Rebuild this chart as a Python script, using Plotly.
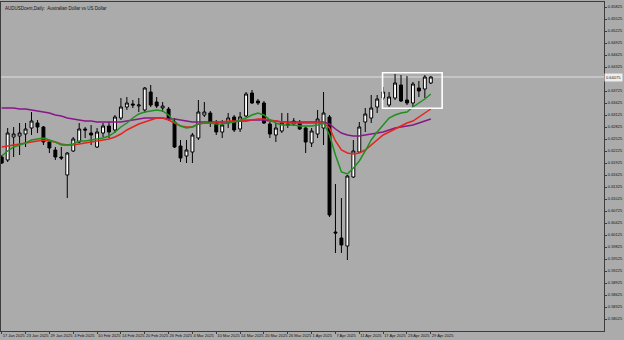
import plotly.graph_objects as go

title_text = "AUDUSDcent,Daily:  Australian Dollar vs US Dollar"

dates = [
    "17 Jan 2025", "20 Jan 2025", "21 Jan 2025", "22 Jan 2025", "23 Jan 2025", "24 Jan 2025",
    "27 Jan 2025", "28 Jan 2025", "29 Jan 2025", "30 Jan 2025", "31 Jan 2025",
    "3 Feb 2025", "4 Feb 2025", "5 Feb 2025", "6 Feb 2025", "7 Feb 2025",
    "10 Feb 2025", "11 Feb 2025", "12 Feb 2025", "13 Feb 2025", "14 Feb 2025",
    "17 Feb 2025", "18 Feb 2025", "19 Feb 2025", "20 Feb 2025", "21 Feb 2025",
    "24 Feb 2025", "25 Feb 2025", "26 Feb 2025", "27 Feb 2025", "28 Feb 2025",
    "3 Mar 2025", "4 Mar 2025", "5 Mar 2025", "6 Mar 2025", "7 Mar 2025",
    "10 Mar 2025", "11 Mar 2025", "12 Mar 2025", "13 Mar 2025", "14 Mar 2025",
    "17 Mar 2025", "18 Mar 2025", "19 Mar 2025", "20 Mar 2025", "21 Mar 2025",
    "24 Mar 2025", "25 Mar 2025", "26 Mar 2025", "27 Mar 2025", "28 Mar 2025",
    "31 Mar 2025", "1 Apr 2025", "2 Apr 2025", "3 Apr 2025", "4 Apr 2025",
    "7 Apr 2025", "8 Apr 2025", "9 Apr 2025", "10 Apr 2025", "11 Apr 2025",
    "14 Apr 2025", "15 Apr 2025", "16 Apr 2025", "17 Apr 2025", "18 Apr 2025",
    "21 Apr 2025", "22 Apr 2025", "23 Apr 2025", "24 Apr 2025", "25 Apr 2025",
    "28 Apr 2025", "29 Apr 2025",
]

open_ = [
    0.62075, 0.62, 0.62575, 0.626, 0.6265, 0.628, 0.62925, 0.62825, 0.6245, 0.6225,
    0.62075, 0.61625, 0.62225, 0.6245, 0.62775, 0.62675, 0.62325, 0.62675, 0.6285, 0.6275,
    0.6305, 0.63325, 0.634, 0.6335, 0.6325, 0.637, 0.6345, 0.633, 0.63275, 0.6295,
    0.6235, 0.621, 0.622, 0.6255, 0.63125, 0.63175, 0.62925, 0.627, 0.62925, 0.63075,
    0.62775, 0.631, 0.63675, 0.63475, 0.63425, 0.629, 0.62625, 0.62725, 0.629, 0.629,
    0.62925, 0.628, 0.62425, 0.6265, 0.628, 0.63075, 0.602, 0.6005, 0.5985, 0.61575,
    0.622, 0.6295, 0.6305, 0.63325, 0.6355, 0.63375, 0.6355, 0.63875, 0.635, 0.63425,
    0.638, 0.63775, 0.63925,
]
high = [
    0.62125, 0.628, 0.62825, 0.62925, 0.62925, 0.632, 0.63, 0.6285, 0.625, 0.62325,
    0.62325, 0.622, 0.62575, 0.62925, 0.62825, 0.62875, 0.628, 0.62925, 0.6295, 0.63125,
    0.6355, 0.63575, 0.635, 0.6355, 0.63825, 0.63875, 0.63575, 0.6345, 0.63325, 0.6305,
    0.625, 0.625, 0.62675, 0.635, 0.6345, 0.63225, 0.63, 0.63, 0.63175, 0.63125,
    0.632, 0.637, 0.6375, 0.63525, 0.63475, 0.6295, 0.62925, 0.63175, 0.63175, 0.6305,
    0.63, 0.62825, 0.628, 0.6325, 0.637, 0.63125, 0.614, 0.6105, 0.61625, 0.625,
    0.6295, 0.633, 0.63625, 0.63625, 0.63825, 0.637, 0.6415, 0.64125, 0.641, 0.6395,
    0.63975, 0.64125, 0.641,
]
low = [
    0.619, 0.6195, 0.62075, 0.62125, 0.62325, 0.62625, 0.62675, 0.62375, 0.62175, 0.62,
    0.62, 0.6105, 0.622, 0.62425, 0.6255, 0.62375, 0.623, 0.62575, 0.6255, 0.62675,
    0.63, 0.6325, 0.633, 0.632, 0.63175, 0.63325, 0.633, 0.632, 0.62975, 0.623,
    0.6195, 0.61925, 0.61925, 0.625, 0.63075, 0.62825, 0.62625, 0.6255, 0.628, 0.627,
    0.627, 0.63075, 0.634, 0.63375, 0.629, 0.6255, 0.6245, 0.62675, 0.628, 0.6285,
    0.6275, 0.62175, 0.62325, 0.6255, 0.62375, 0.60575, 0.59675, 0.59675, 0.595, 0.6155,
    0.62175, 0.627, 0.62925, 0.63175, 0.635, 0.63325, 0.635, 0.6345, 0.63375, 0.63325,
    0.63575, 0.6355, 0.639,
]
close = [
    0.61925, 0.62675, 0.6265, 0.62675, 0.62775, 0.62975, 0.62825, 0.6245, 0.623, 0.62075,
    0.6205, 0.62175, 0.62525, 0.62775, 0.6275, 0.62625, 0.627, 0.6285, 0.627, 0.63075,
    0.63325, 0.63425, 0.63375, 0.63375, 0.638, 0.63375, 0.6335, 0.6335, 0.63025, 0.62325,
    0.6205, 0.6225, 0.62625, 0.632, 0.632, 0.6295, 0.627, 0.62875, 0.6305, 0.6275,
    0.63075, 0.6365, 0.63425, 0.63425, 0.62925, 0.6265, 0.628, 0.62925, 0.62875, 0.62975,
    0.62775, 0.6245, 0.62725, 0.63025, 0.63175, 0.60625, 0.60175, 0.59875, 0.616, 0.62225,
    0.62825, 0.6315, 0.633, 0.63525, 0.637, 0.63575, 0.63925, 0.63475, 0.63425, 0.639,
    0.63725, 0.64075, 0.64075,
]

ma_fast = [
    0.621, 0.62225, 0.62325, 0.62375, 0.62425, 0.625, 0.62525, 0.6255, 0.625, 0.6245,
    0.62375, 0.62375, 0.624, 0.62475, 0.62475, 0.625, 0.62525, 0.6255, 0.626, 0.627,
    0.62825, 0.62925, 0.6305, 0.6315, 0.632, 0.63225, 0.6325, 0.63225, 0.63125, 0.6295,
    0.6285, 0.628, 0.62825, 0.629, 0.62925, 0.62925, 0.629, 0.629, 0.62925, 0.6295,
    0.63, 0.6305, 0.63125, 0.63175, 0.63125, 0.63, 0.62925, 0.62875, 0.62875, 0.62875,
    0.6285, 0.6285, 0.6285, 0.62875, 0.62925, 0.62625, 0.62125, 0.617, 0.6165, 0.618,
    0.61975, 0.62225, 0.625, 0.627, 0.62875, 0.6305, 0.63125, 0.63175, 0.632, 0.63325,
    0.63425, 0.63525, 0.6365,
]
ma_mid = [
    0.62325, 0.6235, 0.62375, 0.624, 0.62425, 0.6245, 0.62475, 0.625, 0.62475, 0.6245,
    0.624, 0.62375, 0.62375, 0.624, 0.62425, 0.6245, 0.62475, 0.625, 0.62525, 0.62575,
    0.6265, 0.6275, 0.62825, 0.629, 0.6295, 0.63, 0.6305, 0.6305, 0.63, 0.62925,
    0.6285, 0.62825, 0.62825, 0.629, 0.62925, 0.62925, 0.6295, 0.6295, 0.62975, 0.62975,
    0.62975, 0.63, 0.63, 0.63025, 0.63025, 0.63, 0.62975, 0.6295, 0.62925, 0.62925,
    0.62925, 0.62925, 0.62925, 0.62925, 0.62925, 0.628, 0.62475, 0.6225, 0.62175, 0.6215,
    0.62175, 0.6225, 0.62375, 0.625, 0.62625, 0.627, 0.62775, 0.6285, 0.62925, 0.62975,
    0.63075, 0.63175, 0.63275,
]
ma_slow = [
    0.633, 0.633, 0.633, 0.63275, 0.63275, 0.6325, 0.63225, 0.632, 0.63175, 0.63125,
    0.631, 0.6305, 0.63025, 0.63, 0.62975, 0.62975, 0.6295, 0.6295, 0.6295, 0.6295,
    0.6295, 0.62975, 0.63, 0.63025, 0.6305, 0.6305, 0.6305, 0.6305, 0.63025, 0.63025,
    0.63, 0.62975, 0.6295, 0.6295, 0.6295, 0.6295, 0.6295, 0.6295, 0.6295, 0.6295,
    0.62975, 0.62975, 0.63, 0.63, 0.63, 0.62975, 0.62975, 0.6295, 0.6295, 0.6295,
    0.6295, 0.6295, 0.6295, 0.6295, 0.6295, 0.629, 0.62775, 0.62675, 0.62625, 0.626,
    0.626, 0.62625, 0.6265, 0.62675, 0.627, 0.6275, 0.628, 0.62825, 0.6285, 0.62875,
    0.62925, 0.62975, 0.63025,
]

y_tickvals = [round(0.65825 - 0.003 * k, 5) for k in range(27)]
highlight_from = "17 Apr 2025"

BG = "#ababab"
AX = "#3c3c3c"
FONT = "Liberation Sans"

fig = go.Figure()
fig.add_trace(go.Candlestick(
    x=dates, open=open_, high=high, low=low, close=close,
    increasing=dict(fillcolor="white", line=dict(color="black", width=1)),
    decreasing=dict(fillcolor="black", line=dict(color="black", width=1)),
    whiskerwidth=0, showlegend=False, hoverinfo="skip",
))
for vals, color in [(ma_slow, "#8a168a"), (ma_mid, "#e8231e"), (ma_fast, "#1f8f1f")]:
    fig.add_trace(go.Scatter(x=dates, y=vals, mode="lines",
                             line=dict(color=color, width=1.5), showlegend=False,
                             hoverinfo="skip"))

last = close[-1]
i0 = dates.index(highlight_from)
fig.add_shape(type="line", xref="paper", x0=0, x1=1, y0=last, y1=last,
              line=dict(color="#dedede", width=1), layer="below")
fig.add_shape(type="rect", xref="x", yref="y",
              x0=i0 - 0.1, x1=len(dates) + 0.9,
              y0=min(low[i0:]) - 0.0003, y1=max(high[i0:]) + 0.0003,
              line=dict(color="white", width=1.6))
fig.add_annotation(xref="paper", yref="y", x=1.0, y=last, xanchor="left", yanchor="middle",
                   text=f"{last:.5f}", showarrow=False, bgcolor="#eeeeee",
                   font=dict(size=4, color="#222222", family=FONT), borderpad=1)
fig.add_annotation(xref="paper", yref="paper", x=0.004, y=0.995, xanchor="left", yanchor="top",
                   text=title_text, showarrow=False,
                   font=dict(size=4.5, color="#111111", family=FONT))

# tick labels hidden under the last-price box are left blank
y_ticktext = ["" if abs(v - last) < 0.001 else f"{v:.5f}" for v in y_tickvals]

fig.update_layout(
    width=624, height=340,
    margin=dict(l=1, r=20, t=2, b=9),
    paper_bgcolor=BG, plot_bgcolor=BG,
    font=dict(family=FONT, size=4, color="#111111"),
    xaxis=dict(
        type="category", range=[-0.12, 101.06], rangeslider=dict(visible=False),
        showgrid=False, zeroline=False, showline=True, linecolor=AX, linewidth=1, mirror=True,
        tickmode="array", tickvals=dates[::4], ticktext=dates[::4], tickangle=0,
        ticks="outside", ticklen=2, tickcolor=AX, tickwidth=1,
        ticklabelposition="outside right", tickfont=dict(size=4, family=FONT, color="#111111"),
        automargin=False, fixedrange=True,
    ),
    yaxis=dict(
        side="right", range=[0.57725, 0.6595],
        showgrid=False, zeroline=False, showline=True, linecolor=AX, linewidth=1, mirror=True,
        tickmode="array", tickvals=y_tickvals, ticktext=y_ticktext,
        ticks="outside", ticklen=2, tickcolor=AX, tickwidth=1,
        tickfont=dict(size=4, family=FONT, color="#111111"),
        automargin=False, fixedrange=True,
    ),
)

fig.write_html("out.html")
